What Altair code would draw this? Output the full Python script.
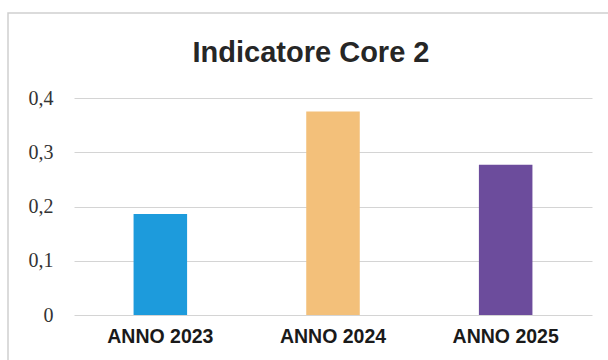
import altair as alt
import pandas as pd

# Indicatore Core 2 by year
years = ["ANNO 2023", "ANNO 2024", "ANNO 2025"]
values = [0.186, 0.375, 0.277]
bar_colors = ["#1d9bdc", "#f3c07a", "#6c4c9c"]
chart_title = ["Indicatore Core 2"]

df = pd.DataFrame({"anno": years, "valore": values})
title_df = pd.DataFrame({"titolo": chart_title})

PLOT_W, PLOT_H = 518, 217
PAD_L, PAD_T = 74, 98

bars = alt.Chart(df).mark_bar().encode(
    x=alt.X(
        "anno:N",
        sort=years,
        title=None,
        scale=alt.Scale(paddingInner=0.69, paddingOuter=0.345),
        axis=alt.Axis(
            labelAngle=0,
            labelFont="Liberation Sans",
            labelFontWeight="bold",
            labelFontSize=19.5,
            labelColor="#1a1a1a",
            labelPadding=12,
            ticks=False,
            domain=False,
            grid=False,
        ),
    ),
    y=alt.Y(
        "valore:Q",
        title=None,
        scale=alt.Scale(domain=[0, 0.4], nice=False),
        axis=alt.Axis(
            values=[0, 0.1, 0.2, 0.3, 0.4],
            labelExpr="replace(format(datum.value, '.1~f'), '.', ',')",
            labelFont="Liberation Serif",
            labelFontSize=20,
            labelColor="#333333",
            labelPadding=21,
            ticks=False,
            domain=False,
            grid=True,
            gridColor="#d4d4d4",
            gridWidth=1,
        ),
    ),
    color=alt.Color("anno:N", scale=alt.Scale(domain=years, range=bar_colors), legend=None),
)

# chart heading, centred above the plot
heading = alt.Chart(title_df).mark_text(
    font="Liberation Sans",
    fontSize=29,
    fontWeight="bold",
    color="#262626",
    align="center",
    baseline="alphabetic",
).encode(x=alt.value(237), y=alt.value(-36), text="titolo:N")

# light outer frame; its right and bottom edges fall outside the canvas
frame = alt.Chart(title_df).mark_rect(
    fill="transparent", stroke="#cfcfcf", strokeWidth=1.5
).encode(x=alt.value(-66), x2=alt.value(560), y=alt.value(-85), y2=alt.value(280))

chart = (
    alt.layer(frame, heading, bars)
    .properties(
        width=PLOT_W,
        height=PLOT_H,
        autosize=alt.AutoSizeParams(type="none"),
        padding={"left": PAD_L, "top": PAD_T, "right": 608 - PAD_L - PLOT_W, "bottom": 360 - PAD_T - PLOT_H},
    )
    .configure_view(strokeWidth=0)
)

chart.save("out.html", embed_options={"renderer": "svg", "actions": False})
